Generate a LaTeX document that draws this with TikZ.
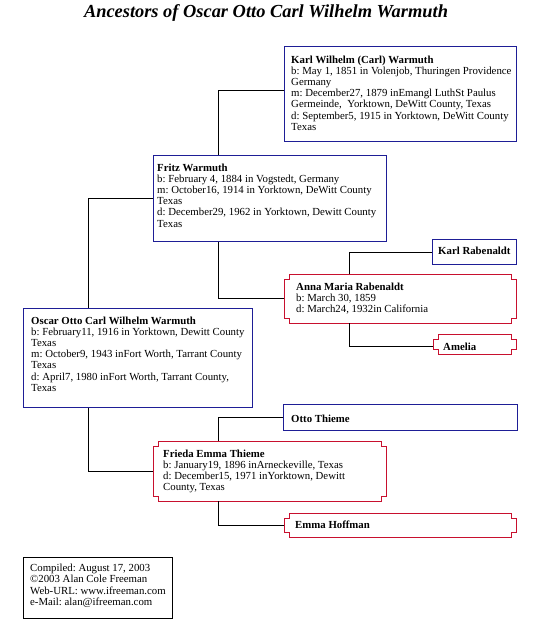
\documentclass[tikz,border=0pt]{standalone}
\usepackage{fontspec}
\setmainfont{Liberation Serif}
\usepackage{tikz}
\usetikzlibrary{positioning, calc}
\usepackage{xcolor}
\definecolor{malenavy}{HTML}{1E1E96}
\definecolor{femalered}{HTML}{C8102E}
\definecolor{treeblack}{HTML}{000000}
\tikzset{
  malebox/.style={rectangle, draw=malenavy, line width=1pt, fill=white,
                  anchor=north west, inner sep=0},
  femalebox/.style={rectangle, draw=none, anchor=north west, inner sep=0},
  notchline/.style={draw=femalered, line width=1pt},
  infobox/.style={rectangle, draw=treeblack, line width=0.9pt, anchor=north west, inner sep=0},
  persontxt/.style={anchor=north west, inner sep=0, align=left,
                    font=\fontsize{10.8}{11.2}\selectfont\frenchspacing},
  tree/.style={draw=treeblack, line width=1pt},
}
% notched frame round a named node
\newcommand\notchframe[1]{%
  \draw[notchline] ([xshift=5pt]#1.north west) -- ([xshift=-5pt]#1.north east)
    -- ++(0,-5pt) -- ++(5pt,0) -- ([yshift=5pt]#1.south east) -- ++(-5pt,0)
    -- ++(0,-5pt) -- ([xshift=5pt]#1.south west) -- ++(0,5pt) -- ++(-5pt,0)
    -- ([yshift=-5pt]#1.north west) -- ++(5pt,0) -- cycle;}
\begin{document}
\begin{tikzpicture}[x=1pt, y=-1pt]
  \useasboundingbox (0,0) rectangle (536,623);

  % --- Title ---
  \node[font=\fontsize{18.4}{20}\selectfont\bfseries\itshape] (title) at (266,12.5)
    {Ancestors of Oscar Otto Carl Wilhelm Warmuth};

  % --- Boxes ---
  \node[malebox, minimum width=232, minimum height=95] (karlw) at (284,46) {};
  \node[malebox, minimum width=233, minimum height=86] (fritz) at (153,155) {};
  \node[femalebox, minimum width=232, minimum height=49] (anna) at (284,274) {};
  \node[malebox, minimum width=84, minimum height=25] (karlr) at (432,239) {};
  \node[femalebox, minimum width=83, minimum height=20] (amelia) at (433,334) {};
  \node[malebox, minimum width=229, minimum height=99] (oscar) at (23,308) {};
  \node[malebox, minimum width=234, minimum height=26] (otto) at (283,404) {};
  \node[femalebox, minimum width=233, minimum height=60] (frieda) at (153,441) {};
  \node[femalebox, minimum width=232, minimum height=24] (emma) at (284,513) {};
  \node[infobox, minimum width=149, minimum height=61] (info) at (23,557) {};
  \foreach \b in {anna,amelia,frieda,emma} {
    \notchframe{\b}
  }

  % --- Texts ---
  \begin{scope}
    \clip (karlw.north west) rectangle (karlw.south east);
    \node[persontxt] (karlwtxt) at ([xshift=7,yshift=-9.5]karlw.north west)
      {\textbf{Karl Wilhelm (Carl) Warmuth}\\
       b: May 1, 1851 in Volenjob, Thuringen Providence\\
       Germany\\
       m: December27, 1879 inEmangl LuthSt Paulus\\
       Germeinde,\ \ Yorktown, DeWitt County, Texas\\
       d: September5, 1915 in Yorktown, DeWitt County\\
       Texas};
  \end{scope}
  \begin{scope}
    \clip (fritz.north west) rectangle (fritz.south east);
    \node[persontxt] (fritztxt) at ([xshift=4,yshift=-8.5]fritz.north west)
      {\textbf{Fritz Warmuth}\\
       b: February 4, 1884 in Vogstedt, Germany\\
       m: October16, 1914 in Yorktown, DeWitt County\\
       Texas\\
       d: December29, 1962 in Yorktown, Dewitt County\\
       Texas};
  \end{scope}
  \node[persontxt] (annatxt) at ([xshift=12,yshift=-8.5]anna.north west)
    {\textbf{Anna Maria Rabenaldt}\\
     b: March 30, 1859\\
     d: March24, 1932in California};
  \begin{scope}
    \clip (karlr.north west) rectangle (karlr.south east);
    \node[persontxt] (karlrtxt) at ([xshift=6,yshift=-7.5]karlr.north west)
      {\textbf{Karl Rabenaldt}};
  \end{scope}
  \node[persontxt] (ameliatxt) at ([xshift=10,yshift=-8.5]amelia.north west)
    {\textbf{Amelia}};
  \begin{scope}
    \clip (oscar.north west) rectangle (oscar.south east);
    \node[persontxt] (oscartxt) at ([xshift=8,yshift=-8.5]oscar.north west)
      {\textbf{Oscar Otto Carl Wilhelm Warmuth}\\
       b: February11, 1916 in Yorktown, Dewitt County\\
       Texas\\
       m: October9, 1943 inFort Worth, Tarrant County\\
       Texas\\
       d: April7, 1980 inFort Worth, Tarrant County,\\
       Texas};
  \end{scope}
  \node[persontxt] (ottotxt) at ([xshift=8,yshift=-10.5]otto.north west)
    {\textbf{Otto Thieme}};
  \node[persontxt] (friedatxt) at ([xshift=10,yshift=-8.5]frieda.north west)
    {\textbf{Frieda Emma Thieme}\\
     b: January19, 1896 inArneckeville, Texas\\
     d: December15, 1971 inYorktown, Dewitt\\
     County, Texas};
  \node[persontxt] (emmatxt) at ([xshift=11,yshift=-7.5]emma.north west)
    {\textbf{Emma Hoffman}};
  \node[persontxt, font=\fontsize{10.8}{11.5}\selectfont\frenchspacing] (infotxt)
    at ([xshift=7,yshift=-6.5]info.north west)
    {Compiled: August 17, 2003\\
     \textcopyright2003 Alan Cole Freeman\\
     Web-URL: www.ifreeman.com\\
     e-Mail: alan@ifreeman.com};

  % --- Tree lines ---
  \draw[tree] ([yshift=3]karlw.west) -| ([xshift=-51.5]fritz.north);
  \draw[tree] (fritz.west) -| ([xshift=-49.5]oscar.north);
  \draw[tree] ([xshift=-51.5]fritz.south) |- (anna.west);
  \draw[tree] ([xshift=-51]anna.north) |- (karlr.west);
  \draw[tree] ([xshift=-51]anna.south) |- ([yshift=-2]amelia.west);
  \draw[tree] ([xshift=-49.5]oscar.south) |- (frieda.west);
  \draw[tree] ([xshift=-51.5]frieda.north) |- (otto.west);
  \draw[tree] ([xshift=-51.5]frieda.south) |- (emma.west);
\end{tikzpicture}
\end{document}
